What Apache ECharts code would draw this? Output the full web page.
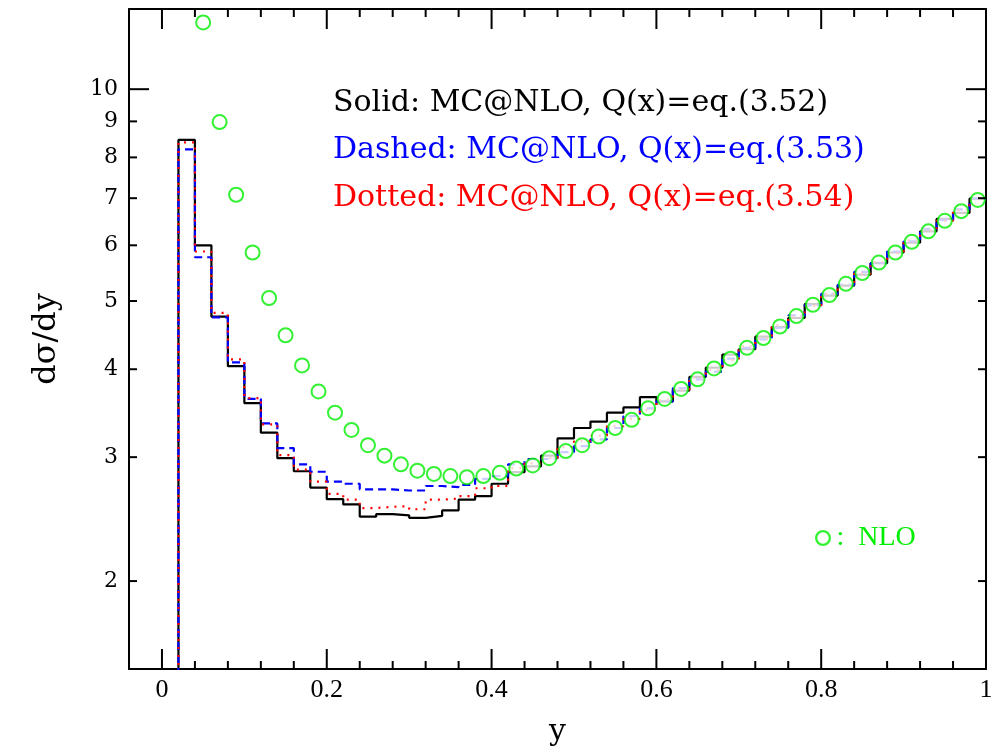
<!DOCTYPE html>
<html>
<head>
<meta charset="utf-8">
<script src="https://cdn.jsdelivr.net/npm/echarts@6/dist/echarts.min.js"></script>
<style>
html,body{margin:0;padding:0;background:#fff;}
#chart{width:1004px;height:750px;}
</style>
</head>
<body>
<div id="chart"></div>
<script>
// ---- data ----
const binWidth = 0.02;
const binStarts = [0.02,0.04,0.06,0.08,0.10,0.12,0.14,0.16,0.18,0.20,0.22,0.24,0.26,0.28,0.30,0.32,0.34,0.36,0.38,0.40,
  0.42,0.44,0.46,0.48,0.50,0.52,0.54,0.56,0.58,0.60,0.62,0.64,0.66,0.68,0.70,0.72,0.74,0.76,0.78,0.80,
  0.82,0.84,0.86,0.88,0.90,0.92,0.94,0.96,0.98];
const floorValue = 1; // histogram is empty below y=0.02
const solidQ352 = [8.47,6.00,4.75,4.04,3.58,3.25,2.99,2.865,2.716,2.615,2.57,2.47,2.49,2.48,2.46,2.475,2.52,2.61,2.64,2.75,
  2.856,2.91,3.015,3.19,3.30,3.37,3.47,3.53,3.65,3.60,3.73,3.90,4.02,4.195,4.27,4.45,4.59,4.73,4.95,5.09,
  5.26,5.45,5.66,5.86,6.05,6.28,6.54,6.67,6.99];
const dashedQ353 = [8.21,5.77,4.74,4.09,3.63,3.35,3.09,2.93,2.86,2.77,2.75,2.70,2.70,2.69,2.69,2.73,2.72,2.74,2.795,2.82,
  2.93,2.98,2.99,3.05,3.11,3.18,3.30,3.43,3.52,3.60,3.76,3.87,3.97,4.14,4.29,4.41,4.58,4.77,4.93,5.12,
  5.27,5.50,5.66,5.88,6.08,6.33,6.52,6.75,6.99];
const dottedQ354 = [8.40,5.88,4.81,4.13,3.64,3.34,3.02,2.88,2.77,2.66,2.61,2.54,2.55,2.555,2.53,2.61,2.62,2.64,2.71,2.73,
  2.895,2.94,2.99,3.10,3.16,3.22,3.32,3.40,3.50,3.62,3.74,3.89,3.99,4.12,4.31,4.42,4.62,4.75,4.92,5.12,
  5.25,5.47,5.68,5.85,6.10,6.30,6.50,6.73,6.98];
const nloX = [0.05,0.07,0.09,0.11,0.13,0.15,0.17,0.19,0.21,0.23,0.25,0.27,0.29,0.31,0.33,0.35,0.37,0.39,0.41,0.43,
  0.45,0.47,0.49,0.51,0.53,0.55,0.57,0.59,0.61,0.63,0.65,0.67,0.69,0.71,0.73,0.75,0.77,0.79,0.81,0.83,
  0.85,0.87,0.89,0.91,0.93,0.95,0.97,0.99];
const nloY = [12.44,8.98,7.08,5.86,5.05,4.47,4.05,3.72,3.47,3.28,3.12,3.015,2.93,2.87,2.84,2.82,2.81,2.82,2.85,2.89,
  2.92,2.99,3.06,3.12,3.21,3.30,3.39,3.52,3.63,3.75,3.87,4.01,4.14,4.29,4.43,4.60,4.76,4.94,5.10,5.29,
  5.48,5.67,5.86,6.07,6.28,6.50,6.71,6.96];
const xLabelValues = [0,0.2,0.4,0.6,0.8,1];
const xLongTickValues = [0,0.2,0.4,0.6,0.8];
const xShortTickValues = [0.04,0.08,0.12,0.16,0.24,0.28,0.32,0.36,0.44,0.48,0.52,0.56,0.64,0.68,0.72,0.76,0.84,0.88,0.92,0.96];
const yLabelValues = [2,3,4,5,6,7,8,9,10];
const yShortTickValues = [2,3,4,5,6,7,8,9];
const yLongTickValues = [10];
const legendLines = [
  {text:'Solid: MC@NLO, Q(x)=eq.(3.52)', color:'#000000'},
  {text:'Dashed: MC@NLO, Q(x)=eq.(3.53)', color:'#0000ff'},
  {text:'Dotted: MC@NLO, Q(x)=eq.(3.54)', color:'#ff0000'}
];

const X_MIN = -0.04, X_MAX = 1.0, Y_MIN = 1.5, Y_MAX = 13;

function histPoints(vals){
  const pts = [[binStarts[0], floorValue]];
  for (let i = 0; i < vals.length; i++) pts.push([binStarts[i] + binWidth, vals[i]]);
  return pts;
}

const GREEN = '#00ee00';
const chart = echarts.init(document.getElementById('chart'), null, {renderer:'canvas'});
const lineAx = {show:true, onZero:false, lineStyle:{color:'#000', width:2}};
function xAx(pos, labels){
  return {type:'value', min:X_MIN, max:X_MAX, position:pos, gridIndex:0,
    axisLine:lineAx, axisTick:{show:false},
    axisLabel: labels ? {show:true, customValues:xLabelValues, margin:8, color:'#000',
       fontFamily:'Liberation Serif', fontSize:26, formatter:(v)=>String(+(+v).toFixed(2))} : {show:false},
    splitLine:{show:false}, minorTick:{show:false}};
}
function yAx(pos, labels){
  return {type:'log', logBase:10, min:Y_MIN, max:Y_MAX, position:pos, gridIndex:0,
    axisLine:lineAx, axisTick:{show:false},
    axisLabel: labels ? {show:true, customValues:yLabelValues, margin:11, color:'#000',
       fontFamily:'DejaVu Serif', fontSize:22, formatter:(v)=>String(Math.round(v))} : {show:false},
    splitLine:{show:false}, minorTick:{show:false}};
}

const xAxes = [xAx('bottom', true), xAx('top', false)];
xAxes[0].name = 'y';
xAxes[0].nameLocation = 'middle';
xAxes[0].nameGap = 48;
xAxes[0].nameTextStyle = {fontFamily:'DejaVu Serif', fontSize:30, color:'#000'};
const yAxes = [yAx('left', true), yAx('right', false)];
yAxes[0].name = 'dσ/dy';
yAxes[0].nameLocation = 'middle';
yAxes[0].nameRotate = 90;
yAxes[0].nameGap = 66;
yAxes[0].nameTextStyle = {fontFamily:'DejaVu Serif', fontSize:32, color:'#000'};

// inward tick marks, positioned through the axes' scales (api.coord)
function tickSeries(values, isX, len){
  return {type:'custom', xAxisIndex:0, yAxisIndex:0, silent:true, clip:false, z:10,
    data: values.map(v=>[v]),
    renderItem:(params, api)=>{
      const v = api.value(0);
      const lines = [];
      if (isX) {
        const b = api.coord([v, Y_MIN]), t = api.coord([v, Y_MAX]);
        lines.push({type:'line', shape:{x1:b[0], y1:b[1], x2:b[0], y2:b[1]-len}, style:{stroke:'#000', lineWidth:2}});
        lines.push({type:'line', shape:{x1:t[0], y1:t[1], x2:t[0], y2:t[1]+len}, style:{stroke:'#000', lineWidth:2}});
      } else {
        const l = api.coord([X_MIN, v]), r = api.coord([X_MAX, v]);
        lines.push({type:'line', shape:{x1:l[0], y1:l[1], x2:l[0]+len, y2:l[1]}, style:{stroke:'#000', lineWidth:2}});
        lines.push({type:'line', shape:{x1:r[0], y1:r[1], x2:r[0]-len, y2:r[1]}, style:{stroke:'#000', lineWidth:2}});
      }
      return {type:'group', children:lines};
    }};
}

const ringIcon = 'path://M50,2A48,48 0 1,1 49.99,2ZM50,16A34,34 0 1,0 50.01,16Z';

const option = {
  backgroundColor:'#fff',
  animation:false,
  grid:{left:129, right:18, top:9, bottom:81, containLabel:false, outerBoundsMode:'none'},
  xAxis:xAxes,
  yAxis:yAxes,
  legend:{show:true, data:[{name:'NLO', icon:ringIcon}], left:810, top:519, itemWidth:17, itemHeight:16,
    formatter:(n)=>':  '+n,
    itemStyle:{color:GREEN, borderWidth:0},
    textStyle:{color:GREEN, fontFamily:'Liberation Serif', fontSize:28}},
  graphic: legendLines.map((l,i)=>({type:'text', left:333, top:88 + i*47.5,
    style:{text:l.text, fill:l.color, font:'30px "DejaVu Serif"'}})),
  series:[
    {name:'Solid', type:'line', step:'start', xAxisIndex:0, yAxisIndex:0, data:histPoints(solidQ352),
     showSymbol:false, symbol:'none', lineStyle:{color:'#000', width:2.2}, z:3},
    {name:'Dashed', type:'line', step:'start', xAxisIndex:0, yAxisIndex:0, data:histPoints(dashedQ353),
     showSymbol:false, symbol:'none', lineStyle:{color:'#0000ff', width:2.2, type:[8,5]}, z:4},
    {name:'Dotted', type:'line', step:'start', xAxisIndex:0, yAxisIndex:0, data:histPoints(dottedQ354),
     showSymbol:false, symbol:'none', lineStyle:{color:'#ff0000', width:2.2, type:[2,6]}, z:5},
    {name:'NLO', type:'scatter', xAxisIndex:0, yAxisIndex:0, data:nloX.map((x,i)=>[x, nloY[i]]),
     symbol:'emptyCircle', symbolSize:14, itemStyle:{color:GREEN, borderColor:GREEN, borderWidth:2.6}, z:6},
    tickSeries(xLongTickValues, true, 20),
    tickSeries(xShortTickValues, true, 8),
    tickSeries(yLongTickValues, false, 20),
    tickSeries(yShortTickValues, false, 8)
  ]
};
chart.setOption(option);
</script>
</body>
</html>
